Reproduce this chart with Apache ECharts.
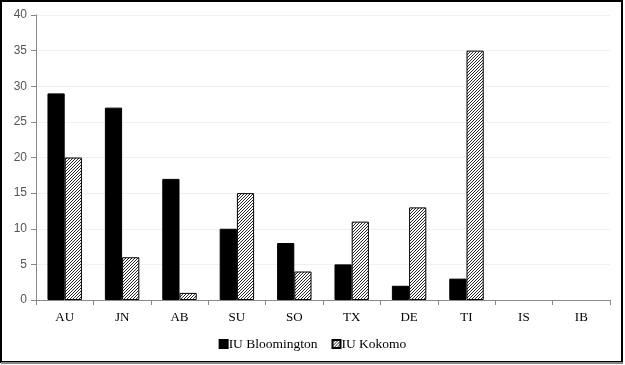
<!DOCTYPE html>
<html>
<head>
<meta charset="utf-8">
<script src="https://cdn.jsdelivr.net/npm/echarts@6/dist/echarts.min.js"></script>
<style>
html,body{margin:0;padding:0;background:#fff;}
#c{width:625px;height:365px;}
</style>
</head>
<body>
<div id="c"></div>
<script>
const categories = ['AU','JN','AB','SU','SO','TX','DE','TI','IS','IB'];
const bloomington = [29,27,17,10,8,5,2,3,0,0];
const kokomo = [20,6,1,15,4,11,13,35,0,0];
const yTicks = [0,5,10,15,20,25,30,35,40];

function hatch(){
  const s = 3;
  const cv = document.createElement('canvas');
  cv.width = s; cv.height = s;
  const ctx = cv.getContext('2d');
  ctx.fillStyle = '#fff';
  ctx.fillRect(0,0,s,s);
  ctx.strokeStyle = '#111';
  ctx.lineWidth = 0.9;
  ctx.beginPath();
  ctx.moveTo(0,s); ctx.lineTo(s,0);
  ctx.moveTo(-1,1); ctx.lineTo(1,-1);
  ctx.moveTo(s-1,s+1); ctx.lineTo(s+1,s-1);
  ctx.stroke();
  return {image: cv, repeat: 'repeat'};
}
const hatchPat = hatch();

function prep(arr){
  return arr.map(v => v === 0 ? {value:v, itemStyle:{borderWidth:0, opacity:0}} : v);
}

const chart = echarts.init(document.getElementById('c'), null, {renderer:'canvas'});
chart.setOption({
  animation:false,
  backgroundColor:'#fff',
  graphic:[
    {type:'rect', shape:{x:1,y:1,width:621,height:361}, style:{fill:'none', stroke:'#000', lineWidth:2}, z:100},
    {type:'line', shape:{x1:1,y1:363,x2:623,y2:363}, style:{stroke:'#888', lineWidth:2}, z:100}
  ],
  grid:{left:36, right:15, top:15, bottom:65},
  legend:{
    bottom:9, left:'center',
    itemWidth:8, itemHeight:8, itemGap:14,
    icon:'rect',
    textStyle:{fontFamily:'Liberation Serif', fontSize:13.5, color:'#000', padding:[0,0,0,-4]},
    data:['IU Bloomington','IU Kokomo']
  },
  xAxis:{
    type:'category', data:categories,
    axisLine:{lineStyle:{color:'#888'}},
    axisTick:{show:true, length:5, lineStyle:{color:'#888'}},
    axisLabel:{fontFamily:'Liberation Serif', fontSize:13, color:'#000', margin:11}
  },
  yAxis:{
    type:'value', min:0, max:40, interval:5,
    axisLine:{show:true, lineStyle:{color:'#888'}},
    axisTick:{show:true, length:5, lineStyle:{color:'#888'}},
    axisLabel:{fontFamily:'Liberation Sans', fontSize:12, color:'#555', margin:9,
      formatter:function(v){return yTicks.indexOf(v)>=0?String(v):'';}},
    splitLine:{lineStyle:{color:'#f0f0f0'}}
  },
  series:[
    {name:'IU Bloomington', type:'bar', data:prep(bloomington), barGap:'0%', barCategoryGap:'40%',
     itemStyle:{color:'#000', borderColor:'#000', borderWidth:1}},
    {name:'IU Kokomo', type:'bar', data:prep(kokomo), barGap:'0%', barCategoryGap:'40%',
     itemStyle:{color:hatchPat, borderColor:'#000', borderWidth:1}}
  ]
});
</script>
</body>
</html>
